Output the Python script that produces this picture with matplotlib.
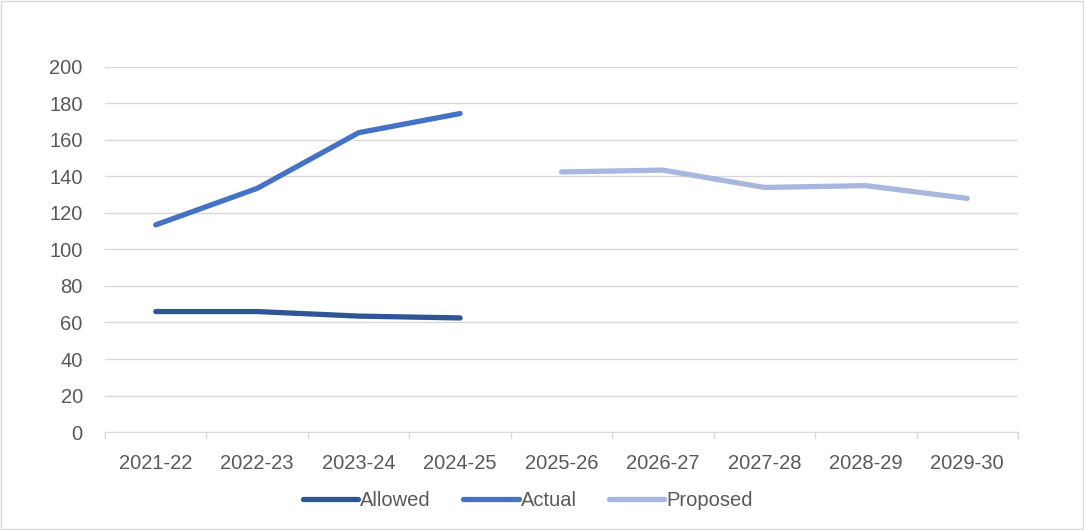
import numpy as np
import matplotlib.pyplot as plt

years = ['2021-22', '2022-23', '2023-24', '2024-25', '2025-26',
         '2026-27', '2027-28', '2028-29', '2029-30']
allowed = [66, 66, 63.5, 62.5, None, None, None, None, None]
actual = [113.5, 133.5, 164, 174.5, None, None, None, None, None]
proposed = [None, None, None, None, 142.5, 143.5, 134, 135, 128]

fig = plt.figure(figsize=(10.84, 5.30), dpi=100)
ax = fig.add_axes([0.0969, 0.1849, 0.8422, 0.6887])

x = np.arange(len(years))
def to_arr(v):
    return np.array([np.nan if a is None else a for a in v], dtype=float)

ax.plot(x, to_arr(allowed), color='#2F5597', lw=3.8, solid_capstyle='round', label='Allowed')
ax.plot(x, to_arr(actual), color='#4472C4', lw=3.8, solid_capstyle='round', label='Actual')
ax.plot(x, to_arr(proposed), color='#A9B7DE', lw=3.8, solid_capstyle='round', label='Proposed')

ax.set_xlim(-0.5, len(years) - 0.5)
ax.set_ylim(0, 200)
ax.set_yticks(range(0, 201, 20))
ax.set_xticks(x)
ax.set_xticklabels(years)
ax.set_xticks(np.arange(-0.5, len(years)), minor=True)
ax.tick_params(axis='x', which='major', length=0, pad=16, labelsize=14.5, labelcolor='#595959')
ax.tick_params(axis='x', which='minor', length=5, color='#D9D9D9', width=1)
ax.tick_params(axis='y', length=0, pad=16, labelsize=14.5, labelcolor='#595959')
ax.grid(axis='y', color='#D9D9D9', lw=1)
ax.set_axisbelow(True)
for s in ['top', 'right', 'left']:
    ax.spines[s].set_visible(False)
ax.spines['bottom'].set_color('#D9D9D9')

for lab in ax.get_xticklabels() + ax.get_yticklabels():
    lab.set_family('Liberation Sans')

leg = fig.legend(loc='center', bbox_to_anchor=(0.487, 0.055), ncol=3, frameon=False,
                 handlelength=2.75, handletextpad=0.1, columnspacing=1.6,
                 prop={'family': 'Liberation Sans', 'size': 14.5})
for t in leg.get_texts():
    t.set_color('#595959')

fig.patches.append(plt.Rectangle((0.001, 0.001), 0.998, 0.998, transform=fig.transFigure,
                                 fill=False, edgecolor='#D9D9D9', lw=1))

fig.savefig('out.png', dpi=100)
